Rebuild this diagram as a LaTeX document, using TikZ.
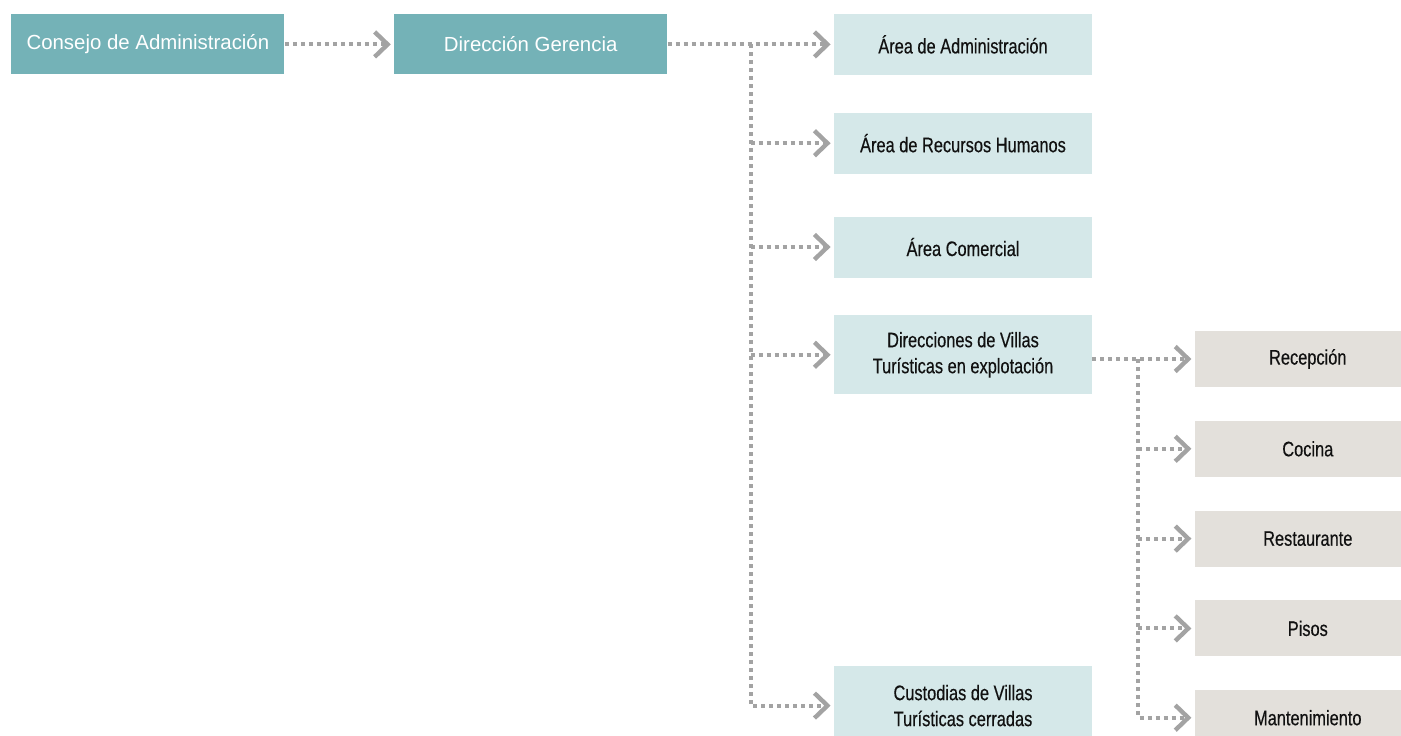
\documentclass[tikz,border=0pt]{standalone}
\usepackage{fontspec}
\setmainfont{Liberation Sans}
\newfontfamily\condfont{Liberation Sans}[FakeStretch=0.78, FakeBold=0.4]
\usepackage{tikz}
\usetikzlibrary{arrows.meta,positioning,calc}
\definecolor{vtteal}{HTML}{74B2B7}
\definecolor{vtpale}{HTML}{D5E8E9}
\definecolor{vtsand}{HTML}{E3E0DB}
\definecolor{vtgrey}{HTML}{A3A3A3}
\definecolor{vtink}{HTML}{111111}

\begin{document}
\begin{tikzpicture}[
  head/.style={fill=vtteal, text=white, minimum width=136.5pt, minimum height=30pt, inner sep=0pt,
    font=\fontsize{10.2}{12}\selectfont},
  area/.style={fill=vtpale, text=vtink, minimum width=129pt, minimum height=#1, inner sep=0pt, align=center,
    font=\condfont\fontsize{10.5}{13}\selectfont},
  area/.default=30.5pt,
  dept/.style={fill=vtsand, text=vtink, minimum width=113pt, minimum height=28pt, inner sep=0pt,
    font=\condfont\fontsize{10.5}{13}\selectfont},
  link/.style={draw=vtgrey, line width=2pt, dash pattern=on 2pt off 2pt, shorten >=1.5pt,
    -{Straight Barb[length=6.5pt, width=12.5pt, line width=2.2pt]}},
]
\useasboundingbox (0,0) rectangle (700.5pt,-367.5pt);
% top row
\node[head, anchor=north west] (consejo) at (5.5pt,-7pt) {Consejo de Administración};
\node[head, right=54.5pt of consejo] (dirger) {Dirección Gerencia};
% areas under the management
\node[area, right=83pt of dirger] (areaadm) {Área de Administración};
\node[area, below=18.5pt of areaadm] (recursos) {Área de Recursos Humanos};
\node[area, below=21pt of recursos] (comercial) {Área Comercial};
\node[area=39.5pt, below=18.5pt of comercial] (dirvillas) {Direcciones de Villas\\Turísticas en explotación};
\node[area=39.5pt, below=135.5pt of dirvillas] (custodias) {Custodias de Villas\\Turísticas cerradas};
% departments of the villas
\node[dept, right=51pt of dirvillas, yshift=-2.1pt] (recep) {Recepción};
\node[dept, below=16.5pt of recep] (cocina) {Cocina};
\node[dept, below=16.5pt of cocina] (restaur) {Restaurante};
\node[dept, below=16.5pt of restaur] (pisos) {Pisos};
\node[dept, below=16.25pt of pisos] (mant) {Mantenimiento};

\coordinate (trunk) at ($(dirger.east)!0.5!(areaadm.west)$);
\coordinate (trunkv) at ($(dirvillas.east |- recep.west)!0.45!(recep.west)$);

\draw[link] (consejo) -- (dirger);
\draw[link] (dirger) -- (areaadm);
\draw[link] (trunk) |- (custodias);
\foreach \n in {recursos,comercial,dirvillas}
  \draw[link] (trunk |- \n.west) -- (\n.west);
\draw[link] (dirvillas.east |- recep.west) -- (recep.west);
\draw[link] (trunkv) |- (mant);
\foreach \n in {cocina,restaur,pisos}
  \draw[link] (trunkv |- \n.west) -- (\n.west);
\end{tikzpicture}
\end{document}
